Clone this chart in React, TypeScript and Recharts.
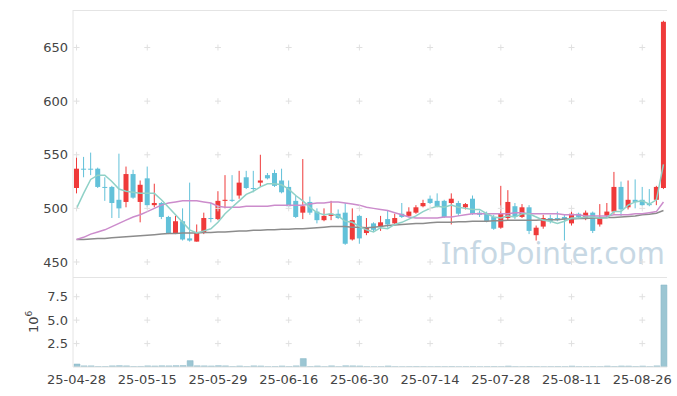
import React from 'react';
import { ComposedChart, BarChart, Bar, Line, XAxis, YAxis, ReferenceDot } from 'recharts';

const dates = [
  '25-04-28','25-04-29','25-04-30',
  '25-05-02','25-05-07','25-05-08','25-05-09','25-05-12','25-05-13','25-05-14','25-05-15','25-05-16','25-05-19','25-05-20','25-05-21','25-05-22','25-05-23','25-05-26','25-05-27','25-05-28','25-05-29','25-05-30',
  '25-06-02','25-06-04','25-06-05','25-06-09','25-06-10','25-06-11','25-06-12','25-06-13','25-06-16','25-06-17','25-06-18','25-06-19','25-06-20','25-06-23','25-06-24','25-06-25','25-06-26','25-06-27','25-06-30',
  '25-07-01','25-07-02','25-07-03','25-07-04','25-07-07','25-07-08','25-07-09','25-07-10','25-07-11','25-07-14','25-07-15','25-07-16','25-07-17','25-07-18','25-07-21','25-07-22','25-07-23','25-07-24','25-07-25','25-07-28','25-07-29','25-07-30','25-07-31',
  '25-08-01','25-08-04','25-08-05','25-08-06','25-08-07','25-08-08','25-08-11','25-08-12','25-08-13','25-08-14','25-08-18','25-08-19','25-08-20','25-08-21','25-08-22','25-08-25','25-08-26','25-08-27','25-08-28','25-08-29',
];

const tickDates = ['25-04-28','25-05-15','25-05-29','25-06-16','25-06-30','25-07-14','25-07-28','25-08-11','25-08-26'];
const priceTicks = [450, 500, 550, 600, 650];
const volumeTicks = [2.5, 5, 7.5];

const openP = [519,537,537,537,520,520,508,506,532,506,528,503,505,492,477,488,472,469,477,491,490,507,508,512,529,519,524,531,533,526,520,507,496,506,497,489,493,495,496,471,493,477,486,483,490,486,495,493,496,502,509,507,507,505,505,501,509,496,495,492,482,491,502,492,501,475,483,491,491,492,486,495,491,496,485,493,497,520,501,508,508,504,508,519];
const highP = [549,548,552,538,529,521,551,539,536,526,539,523,506,493,493,500,524,485,496,505,516,531,531,535,535,535,550,533,536,537,526,512,546,511,500,500,507,499,505,500,494,491,487,493,498,495,505,501,503,508,512,514,508,514,507,505,512,498,497,494,521,517,505,504,503,484,494,494,497,494,497,496,498,497,504,505,534,525,526,527,520,518,521,675];
const lowP = [514,529,531,519,507,491,491,501,509,487,501,501,490,476,476,470,469,469,476,487,489,500,506,509,518,515,520,527,520,514,501,491,490,494,486,488,489,490,466,470,467,475,478,479,482,485,491,492,495,501,504,501,491,485,493,499,494,492,487,480,481,489,490,491,476,470,481,486,488,470,484,490,489,477,483,492,495,493,499,500,502,502,503,518];
const closeP = [537,537,537,520,520,505,500,532,510,522,503,505,492,477,488,471,470,478,491,491,507,508,507,524,519,519,526,528,521,515,502,492,502,496,489,493,495,491,467,489,472,482,480,487,485,491,492,497,501,505,505,502,492,509,495,504,495,494,488,481,495,506,492,501,479,482,491,488,489,490,495,492,496,479,492,497,520,499,508,506,503,503,520,674];

const ma5 = [500,514,527,531,531,525,518,516,515,514,514,514,508,501,494,487,480,477,479,481,487,495,501,507,513,516,520,523,523,522,518,512,507,501,496,494,495,493,488,487,483,480,478,482,481,485,487,490,493,497,500,502,501,503,501,500,499,499,495,492,491,493,492,495,495,492,489,488,486,488,491,491,492,492,491,491,497,497,503,506,507,504,508,541];
const ma20 = [471,473,476,478,480,483,486,489,492,494,497,500,503,505,506,507,507,507,506,505,502,501,501,501,502,502,502,502,503,503,503,503,503,504,505,505,506,506,505,504,503,501,500,499,498,496,494,492,491,491,491,491,492,492,493,494,495,495,495,495,495,495,496,496,495,495,495,495,495,494,494,494,493,493,493,493,494,494,494,495,495,496,497,506];
const ma60 = [471,471,471.5,472,472,472.5,473,473.5,474,474.5,475,475.5,476,476.5,476.5,477,477,477,477.5,477.5,478,478,478.5,479,479,479.5,479.5,480,480,480.5,480.5,481,481,481.5,482,482.5,483,483,483,482.5,482.5,482,482.5,483,484,484.5,485,485.5,486,486,486.5,487,487,487,487.5,487.5,488,488,488,488.5,488.5,489,489,489,489,489,489.5,489.5,489.5,490,490,490.5,490.5,491,491,491.5,491.5,492,492.5,493,494,494.5,495.5,498];
const volume = [0.32,0.12,0.12,0.05,0.05,0.12,0.14,0.12,0.05,0.06,0.12,0.11,0.13,0.12,0.14,0.15,0.68,0.13,0.12,0.11,0.14,0.12,0.05,0.11,0.05,0.12,0.11,0.04,0.05,0.11,0.05,0.12,0.9,0.05,0.11,0.04,0.12,0.04,0.13,0.12,0.11,0.04,0.03,0.04,0.11,0.04,0.03,0.04,0.05,0.04,0.03,0.04,0.04,0.05,0.03,0.04,0.04,0.03,0.04,0.05,0.04,0.1,0.04,0.03,0.05,0.04,0.03,0.04,0.05,0.04,0.1,0.04,0.04,0.05,0.04,0.1,0.05,0.11,0.1,0.05,0.1,0.04,0.12,8.75];

const RED = '#ef3a3a';
const BLUE = '#62c1d9';
const GRID = '#e0e0e0';
const AXIS = '#e4e4e4';
const FONT = 'DejaVu Sans';

const data = dates.map((d, i) => ({
  date: d,
  open: openP[i],
  high: highP[i],
  low: lowP[i],
  close: closeP[i],
  range: [lowP[i], highP[i]],
  ma5: ma5[i],
  ma20: ma20[i],
  ma60: ma60[i],
  vol: volume[i],
}));

const Candle = (props: any) => {
  const { x, y, width, height, payload } = props;
  if (!payload || height == null) return null;
  const { open, close, high, low } = payload;
  const up = close > open;
  const color = up ? RED : BLUE;
  const span = high - low || 1;
  const pix = (p: number) => y + ((high - p) / span) * height;
  const cx = x + width / 2;
  const top = pix(Math.max(open, close));
  const bot = pix(Math.min(open, close));
  return (
    <g>
      <line x1={cx} x2={cx} y1={y} y2={y + height} stroke={color} strokeWidth={1} />
      <rect x={x} y={top} width={width} height={Math.max(bot - top, 1)} fill={color} />
    </g>
  );
};

const Cross = (props: any) => {
  const { cx, cy } = props;
  if (cx == null || cy == null) return null;
  return <path d={`M${cx - 3},${cy}H${cx + 3}M${cx},${cy - 3}V${cy + 3}`} stroke={GRID} strokeWidth={1} fill="none" />;
};

const tickStyle = { fontSize: 13, fill: '#444', fontFamily: FONT };

export default function App() {
  return (
    <div style={{ position: 'absolute', left: 0, top: 0, width: 677, height: 396, background: '#fff', fontFamily: FONT }}>
      <div
        style={{
          position: 'absolute',
          left: 441,
          top: 233,
          fontSize: 30,
          lineHeight: '40px',
          color: '#c7d8e4',
          fontFamily: 'Noto Sans',
          whiteSpace: 'nowrap',
        }}
      >
        InfoPointer.com
      </div>
      <div style={{ position: 'absolute', left: 73, top: 10, width: 594, height: 0, borderTop: `1px solid ${AXIS}` }} />
      <div style={{ position: 'absolute', left: 73, top: 277, width: 594, height: 0, borderTop: `1px solid ${AXIS}` }} />
      <div style={{ position: 'absolute', left: 0, top: 0 }}>
        <ComposedChart width={677} height={277} data={data} margin={{ top: 10, right: 10, bottom: 0, left: 0 }} barCategoryGap={0}>
          <XAxis dataKey="date" hide />
          <YAxis
            domain={[436, 685]}
            ticks={priceTicks}
            width={73}
            tickLine={false}
            tickSize={3}
            tickMargin={2}
            axisLine={{ stroke: AXIS }}
            tick={tickStyle}
            allowDataOverflow
          />
          {tickDates.map((d) =>
            priceTicks.map((v) => (
              <ReferenceDot key={`p${d}${v}`} x={d} y={v} shape={<Cross />} />
            ))
          )}
          <Bar dataKey="range" barSize={5} shape={<Candle />} isAnimationActive={false} />
          <Line type="linear" dataKey="ma60" stroke="#8c8c8c" strokeWidth={1.5} dot={false} isAnimationActive={false} />
          <Line type="linear" dataKey="ma20" stroke="#cc8ccc" strokeWidth={1.5} dot={false} isAnimationActive={false} />
          <Line type="linear" dataKey="ma5" stroke="#8fd1c7" strokeWidth={1.5} dot={false} isAnimationActive={false} />
        </ComposedChart>
      </div>
      <div style={{ position: 'absolute', left: 0, top: 277 }}>
        <BarChart width={677} height={119} data={data} margin={{ top: 0, right: 10, bottom: 0, left: 0 }} barCategoryGap={0}>
          <XAxis
            dataKey="date"
            ticks={tickDates}
            interval={0}
            tickLine={false}
            tickSize={6}
            axisLine={{ stroke: AXIS }}
            tick={tickStyle}
            height={29}
          />
          <YAxis
            domain={[0, 9.6]}
            ticks={volumeTicks}
            width={73}
            tickLine={false}
            tickSize={3}
            tickMargin={2}
            axisLine={{ stroke: AXIS }}
            tick={tickStyle}
            tickFormatter={(v: number) => v.toFixed(1)}
            allowDataOverflow
          />
          {tickDates.map((d) =>
            volumeTicks.map((v) => (
              <ReferenceDot key={`v${d}${v}`} x={d} y={v} shape={<Cross />} />
            ))
          )}
          <Bar dataKey="vol" barSize={6} fill="#9cc6d3" stroke="#86b6c6" strokeWidth={0.5} isAnimationActive={false} />
        </BarChart>
      </div>
      <svg style={{ position: 'absolute', left: 0, top: 0 }} width={677} height={396}>
        <text transform="translate(38,333) rotate(-90)" fontSize={13} fill="#444" fontFamily={FONT}>
          10
          <tspan dy={-6} fontSize={9}>6</tspan>
        </text>
      </svg>
    </div>
  );
}
